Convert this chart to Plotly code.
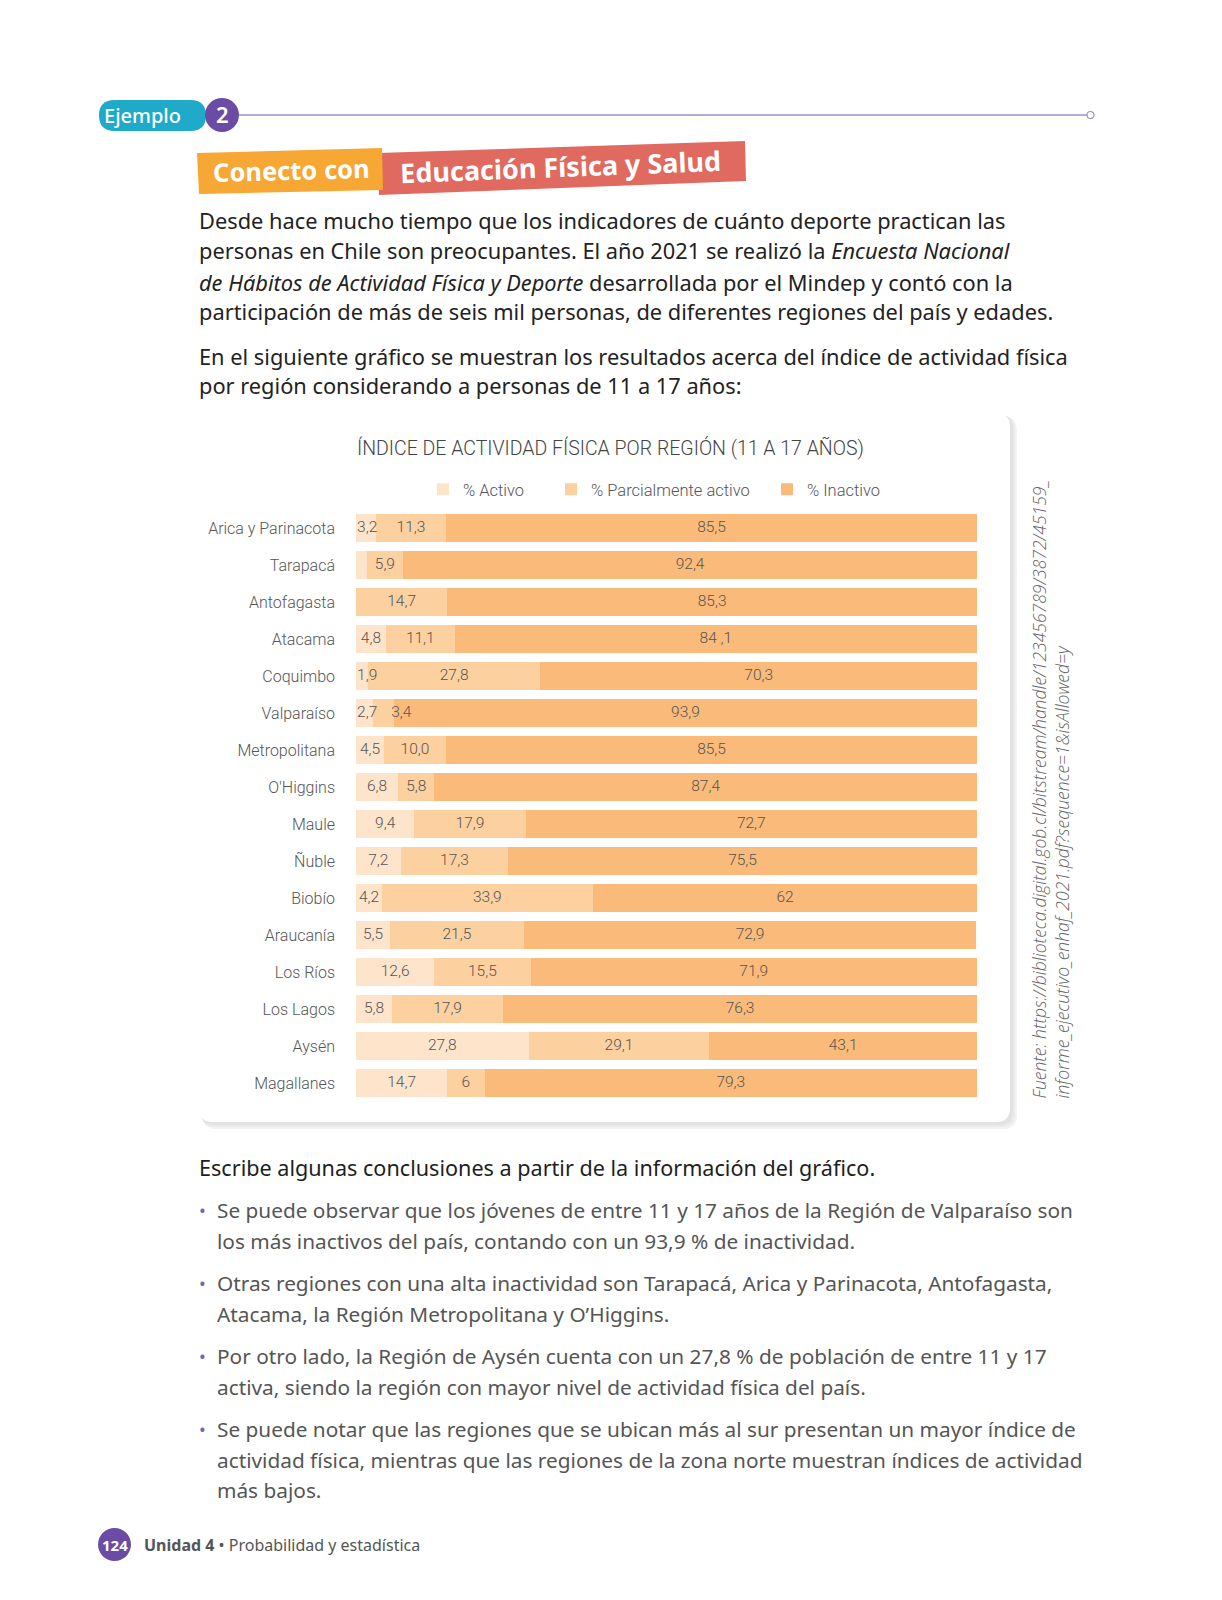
"""plot.py - Índice de actividad física por región (11 a 17 años)"""
import plotly.graph_objects as go

# Data #
regiones = ["Arica y Parinacota", "Tarapacá", "Antofagasta", "Atacama", "Coquimbo",
            "Valparaíso", "Metropolitana", "O'Higgins", "Maule", "Ñuble", "Biobío",
            "Araucanía", "Los Ríos", "Los Lagos", "Aysén", "Magallanes"]
activo = [3.2, 1.7, 0, 4.8, 1.9, 2.7, 4.5, 6.8, 9.4, 7.2, 4.2, 5.5, 12.6, 5.8, 27.8, 14.7]
parcial = [11.3, 5.9, 14.7, 11.1, 27.8, 3.4, 10.0, 5.8, 17.9, 17.3, 33.9, 21.5, 15.5, 17.9, 29.1, 6]
inactivo = [85.5, 92.4, 85.3, 84.1, 70.3, 93.9, 85.5, 87.4, 72.7, 75.5, 62, 72.9, 71.9, 76.3, 43.1, 79.3]
activo_txt = ["3,2", "", "", "4,8", "1,9", "2,7", "4,5", "6,8", "9,4", "7,2", "4,2",
              "5,5", "12,6", "5,8", "27,8", "14,7"]
parcial_txt = ["11,3", "5,9", "14,7", "11,1", "27,8", "3,4", "10,0", "5,8", "17,9", "17,3",
               "33,9", "21,5", "15,5", "17,9", "29,1", "6"]
inactivo_txt = ["85,5", "92,4", "85,3", "84 ,1", "70,3", "93,9", "85,5", "87,4", "72,7", "75,5",
                "62", "72,9", "71,9", "76,3", "43,1", "79,3"]
series = ["% Activo", "% Parcialmente activo", "% Inactivo"]

W, H = 1222, 1600
OFF = 8  # default body margin of the html page
COND = "Roboto, sans-serif"
BODY = "Noto Sans, Open Sans, sans-serif"


def px(x):
    return (x - OFF) / W


def py(y):
    return 1 - (y - OFF) / H


fig = go.Figure()

colors = ["#FDE4CB", "#FCD09F", "#FABA79"]
legend_x = [423, 551, 767]
for k, (name, vals, col) in enumerate(zip(series, [activo, parcial, inactivo], colors)):
    fig.add_trace(go.Bar(
        y=regiones, x=vals, name=name, orientation="h",
        marker=dict(color=col, line=dict(width=0)),
        hoverinfo="skip",
        legend="legend" if k == 0 else f"legend{k + 1}",
    ))

# value labels, on top of all the bars
lab_x, lab_y, lab_t = [], [], []
for i, reg in enumerate(regiones):
    start, last = 0, -10
    for vals, labels in ((activo, activo_txt), (parcial, parcial_txt), (inactivo, inactivo_txt)):
        v = vals[i]
        if labels[i]:
            pos = max(start + v / 2, last + 5.5, 1.8)
            lab_x.append(pos)
            lab_y.append(reg)
            lab_t.append(labels[i])
            last = pos
        start += v
fig.add_trace(go.Scatter(
    x=lab_x, y=lab_y, text=lab_t, mode="text", textposition="middle center",
    textfont=dict(family=COND, size=15.5, color="#555555", weight=300),
    showlegend=False, hoverinfo="skip",
))

leg_common = dict(orientation="h", y=py(472), xanchor="left", yanchor="top",
                  font=dict(family=COND, size=16.5, color="#555555", weight=300),
                  bgcolor="rgba(0,0,0,0)")
fig.update_layout(
    width=W, height=H,
    margin=dict(l=0, r=0, t=0, b=0),
    paper_bgcolor="white", plot_bgcolor="rgba(0,0,0,0)",
    barmode="stack", bargap=0.26,
    showlegend=True,
    legend=dict(x=px(legend_x[0]), **leg_common),
    legend2=dict(x=px(legend_x[1]), **leg_common),
    legend3=dict(x=px(legend_x[2]), **leg_common),
    xaxis=dict(domain=[px(356), px(977)], range=[0, 100], visible=False, fixedrange=True),
    yaxis=dict(domain=[py(1101.5), py(509.5)], range=[15.5, -0.5], showgrid=False,
               zeroline=False, showline=False, ticks="", ticklabelstandoff=20,
               tickfont=dict(family=COND, size=16, color="#555555", weight=300)),
)


def rounded(x0, y0, x1, y1, r):
    pts = [f"M {px(x0 + r)},{py(y0)}", f"L {px(x1 - r)},{py(y0)}",
           f"Q {px(x1)},{py(y0)} {px(x1)},{py(y0 + r)}", f"L {px(x1)},{py(y1 - r)}",
           f"Q {px(x1)},{py(y1)} {px(x1 - r)},{py(y1)}", f"L {px(x0 + r)},{py(y1)}",
           f"Q {px(x0)},{py(y1)} {px(x0)},{py(y1 - r)}", f"L {px(x0)},{py(y0 + r)}",
           f"Q {px(x0)},{py(y0)} {px(x0 + r)},{py(y0)}", "Z"]
    return " ".join(pts)


def poly(pts, color):
    d = "M " + " L ".join(f"{px(a)},{py(b)}" for a, b in pts) + " Z"
    return dict(type="path", xref="paper", yref="paper", path=d, fillcolor=color,
                line=dict(width=0), layer="above")


# Page decoration #
shapes = []
# card shadow + card
for dx, col in ((7, "#F3F3F3"), (5, "#EAEAEA"), (3, "#E2E2E2")):
    shapes.append(dict(type="path", xref="paper", yref="paper",
                       path=rounded(199 + dx / 2, 413 + dx / 2, 1010 + dx, 1122 + dx, 14),
                       fillcolor=col, line=dict(width=0), layer="below"))
shapes.append(dict(type="path", xref="paper", yref="paper", path=rounded(199, 413, 1010, 1122, 14),
                   fillcolor="white", line=dict(width=0), layer="below"))

# Ejemplo badge
shapes.append(dict(type="path", xref="paper", yref="paper", path=rounded(99, 100, 206, 131, 15.5),
                   fillcolor="#1EAAC8", line=dict(width=0)))
shapes.append(dict(type="circle", xref="paper", yref="paper", x0=px(205), x1=px(239),
                   y0=py(132), y1=py(98), fillcolor="#6A4CA5", line=dict(width=0)))
shapes.append(dict(type="line", xref="paper", yref="paper", x0=px(239), x1=px(1088),
                   y0=py(115), y1=py(115), line=dict(color="#9E92C8", width=1.5)))
shapes.append(dict(type="circle", xref="paper", yref="paper", x0=px(1087), x1=px(1094),
                   y0=py(118.5), y1=py(111.5), fillcolor="white",
                   line=dict(color="#9E92C8", width=1.2)))

# Conecto con banners
shapes.append(poly([(378, 153), (745, 141), (746, 181), (379, 195)], "#E06A60"))
shapes.append(poly([(197, 153), (382, 148), (383, 190), (199, 194)], "#F7A733"))

# footer circle
shapes.append(dict(type="circle", xref="paper", yref="paper", x0=px(98), x1=px(131),
                   y0=py(1561), y1=py(1528), fillcolor="#6A4CA5", line=dict(width=0)))

fig.update_layout(shapes=shapes)

ann = []


def txt(x, y, s, size, color="#222222", family=BODY, anchor="left", angle=0,
        yanchor="middle", weight="normal"):
    ann.append(dict(x=px(x), y=py(y), xref="paper", yref="paper", text=s, showarrow=False,
                    xanchor=anchor, yanchor=yanchor, textangle=angle,
                    font=dict(family=family, size=size, color=color, weight=weight)))


txt(142, 115, "Ejemplo", 20, "white", anchor="center", weight=500)
txt(222, 114, "2", 22, "white", anchor="center", weight=600)
txt(291, 170, "<b>Conecto con</b>", 25.5, "white", anchor="center", angle=-1.5)
txt(560, 166, "<b>Educación Física y Salud</b>", 27, "white", anchor="center", angle=-2.2)

para = [
    "Desde hace mucho tiempo que los indicadores de cuánto deporte practican las",
    "personas en Chile son preocupantes. El año 2021 se realizó la <i>Encuesta Nacional</i>",
    "<i>de Hábitos de Actividad Física y Deporte</i> desarrollada por el Mindep y contó con la",
    "participación de más de seis mil personas, de diferentes regiones del país y edades.",
]
para_y = [221, 251, 282, 312]
for s, y in zip(para, para_y):
    txt(197, y, s, 21.8)
para2 = [
    "En el siguiente gráfico se muestran los resultados acerca del índice de actividad física",
    "por región considerando a personas de 11 a 17 años:",
]
for s, y in zip(para2, [356, 386]):
    txt(197, y, s, 21.8)

txt(610, 448, "ÍNDICE DE ACTIVIDAD FÍSICA POR REGIÓN (11 A 17 AÑOS)", 19.5, "#444444", COND,
    "center", weight=300)

txt(1038, 1101, "<i>Fuente: https://biblioteca.digital.gob.cl/bitstream/handle/123456789/3872/45159_</i>",
    17.5, "#666666", "Open Sans, sans-serif", "center", -90, "bottom", weight=300)
txt(1061, 1101, "<i>informe_ejecutivo_enhaf_2021.pdf?sequence=1&amp;isAllowed=y</i>",
    17.5, "#666666", "Open Sans, sans-serif", "center", -90, "bottom", weight=300)

txt(197, 1167, "Escribe algunas conclusiones a partir de la información del gráfico.", 21.6,
    "#1E1E1E")

bullets = [
    ["Se puede observar que los jóvenes de entre 11 y 17 años de la Región de Valparaíso son",
     "los más inactivos del país, contando con un 93,9 % de inactividad."],
    ["Otras regiones con una alta inactividad son Tarapacá, Arica y Parinacota, Antofagasta,",
     "Atacama, la Región Metropolitana y O’Higgins."],
    ["Por otro lado, la Región de Aysén cuenta con un 27,8 % de población de entre 11 y 17",
     "activa, siendo la región con mayor nivel de actividad física del país."],
    ["Se puede notar que las regiones que se ubican más al sur presentan un mayor índice de",
     "actividad física, mientras que las regiones de la zona norte muestran índices de actividad",
     "más bajos."],
]
bullet_y = [1210, 1283, 1356, 1429]
for lines, y in zip(bullets, bullet_y):
    txt(202, y, "•", 18, "#7A62B5", anchor="center")
    for k, s in enumerate(lines):
        txt(215, y + k * 30.7, s, 20.8, "#555555")

txt(114.5, 1545, "<b>124</b>", 15, "white", anchor="center")
txt(142, 1545, "<b>Unidad 4</b> • Probabilidad y estadística", 16, "#555555")

fig.update_layout(annotations=ann)

fig.write_html("out.html")
